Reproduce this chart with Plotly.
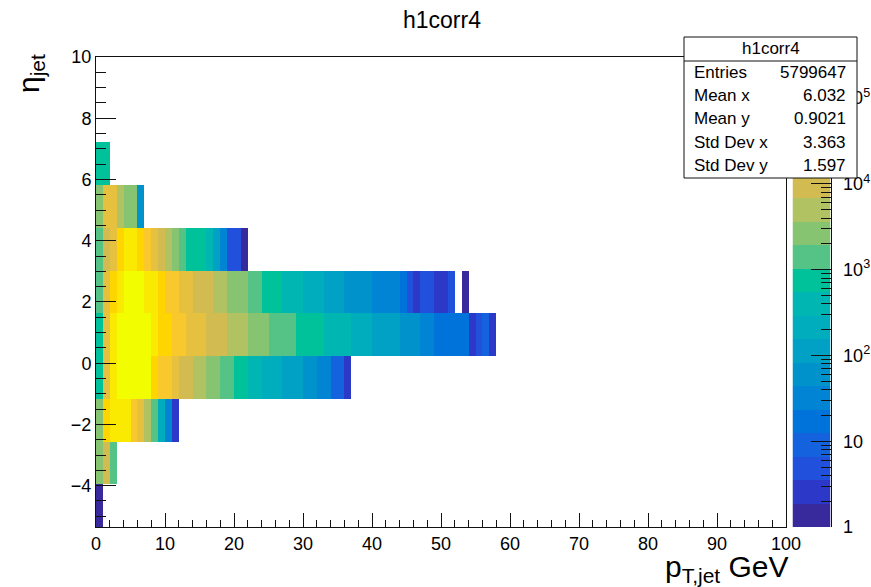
import numpy as np
import plotly.graph_objects as go

# ---- binning -------------------------------------------------------------
pt_edges = np.arange(0, 61, 1)             # 1 GeV wide pT bins (0-60 GeV filled)
eta_edges = np.linspace(-5.35, 10.0, 12)   # 11 eta bins

# ---- bin contents, one list per eta bin (lowest eta first), pT bins from 0 GeV
eta_bin0 = [1]
eta_bin1 = [2700, 9800, 1500]
eta_bin2 = [2500, 66000, 118000, 105000, 95000, 38000, 19000, 5600, 1500, 230, 33, 3]
eta_bin3 = [760, 18000, 125000, 205000, 250000, 240000, 215000, 180000, 70000, 42000,
            30000, 19000, 11500, 8500, 6100, 4400, 3200, 2300, 1700, 1200,
            880, 620, 470, 340, 260, 200, 170, 130, 100, 90,
            70, 50, 38, 27, 11, 8, 2]
eta_bin4 = [800, 20000, 140000, 230000, 302000, 280000, 250000, 200000, 150000, 80000,
            62000, 42000, 33000, 22000, 18000, 15000, 11500, 9500, 7800, 6300,
            5200, 4300, 3400, 2800, 2200, 1800, 1500, 1300, 1100, 950,
            800, 680, 580, 500, 430, 370, 310, 270, 220, 180,
            145, 120, 100, 88, 75, 60, 50, 38, 28, 21,
            19, 17, 15, 14, 3, 5, 8, 2]
eta_bin5 = [1500, 19000, 75000, 125000, 175000, 185000, 170000, 145000, 120000, 80000,
            42000, 33000, 22000, 16000, 12000, 9800, 8000, 6200, 4800, 3500,
            2800, 2200, 1800, 1300, 1000, 800, 650, 500, 420, 340,
            280, 220, 180, 150, 120, 95, 80, 68, 56, 46,
            40, 34, 29, 25, 16, 5, 3, 5, 4, 2,
            3, 4, 0, 1]
eta_bin6 = [1300, 10000, 20000, 60000, 105000, 95000, 70000, 40000, 22000, 12000,
            6000, 3300, 1600, 950, 750, 600, 420, 130, 35, 5,
            4, 1]
eta_bin7 = [2600, 17000, 21000, 5200, 3300, 2700, 60]
eta_bin8 = [700, 600]
eta_bin9 = []
eta_bin10 = []

rows = [eta_bin0, eta_bin1, eta_bin2, eta_bin3, eta_bin4, eta_bin5,
        eta_bin6, eta_bin7, eta_bin8, eta_bin9, eta_bin10]

n_pt = len(pt_edges) - 1
logz = []
for r in rows:
    line = [None] * n_pt
    for j, c in enumerate(r):
        if c > 0:
            line[j] = float(np.log10(c))
    logz.append(line)

# ---- colour contours (20 levels, log scale) ----------------------------
n_cont = 20
zmin = 0.0
zmax = float(np.log10(max(max(r) for r in rows if r)))
band_colors = [
    "#38299c", "#2c38c8", "#2150dd", "#1462de", "#0073db",
    "#0084d3", "#0093cb", "#00a1c4", "#00adbd", "#00b6b3",
    "#00c29a", "#55c386", "#87c472", "#b1c263", "#d2bc52",
    "#e6c13f", "#f9c82c", "#ffd500", "#fae900", "#f2fd00",
]
colorscale = []
for k, c in enumerate(band_colors):
    colorscale.append([k / n_cont, c])
    colorscale.append([(k + 1) / n_cont, c])

FONT = "Liberation Sans, Arial, Helvetica, sans-serif"
INK = "#111111"

fig = go.Figure()
fig.add_trace(go.Heatmap(
    x=pt_edges, y=eta_edges, z=logz,
    zmin=zmin, zmax=zmax, colorscale=colorscale,
    showscale=False, hoverongaps=False,
    xaxis="x", yaxis="y",
))

# palette strip drawn as its own heatmap on a log-valued axis
band_edges = np.linspace(zmin, zmax, n_cont + 1)
band_mid = [[(band_edges[k] + band_edges[k + 1]) / 2] for k in range(n_cont)]
fig.add_trace(go.Heatmap(
    x=[0, 1], y=band_edges, z=band_mid,
    zmin=zmin, zmax=zmax, colorscale=colorscale,
    showscale=False, hoverinfo="skip",
    xaxis="x2", yaxis="y2",
))

decades = [d for d in range(0, 6) if d <= zmax]
dec_text = ["1", "10"] + [f"10<sup>{d}</sup>" for d in decades[2:]]
minor_vals = [np.log10(m) + d for d in range(0, 6) for m in range(2, 10)
              if np.log10(m) + d <= zmax]

# plot area spans x 96..831 px, y 57..527 px
L, R, T, B = 96, 40, 57, 60
W, H = 871, 587
PW, PH = W - L - R, H - T - B


def px(x):
    return (x - L) / PW


def py(y):
    return (H - B - y) / PH


axis_common = dict(
    showgrid=False, zeroline=False, showline=True, linecolor=INK, linewidth=1,
    tickcolor=INK, tickwidth=1, ticks="inside", automargin=False,
    tickfont=dict(family=FONT, size=18, color="#000"),
)

fig.update_layout(
    width=W, height=H,
    margin=dict(l=L, r=R, t=T, b=B, autoexpand=False),
    paper_bgcolor="white", plot_bgcolor="white",
    title=dict(text="h1corr4", x=442 / W, xanchor="center",
               y=1 - 20 / H, yanchor="middle",
               font=dict(family=FONT, size=23, color="#000")),
    xaxis=dict(domain=[0, px(786)], range=[0, 100], anchor="y",
               tickmode="linear", tick0=0, dtick=10, ticklen=14, mirror=True,
               minor=dict(dtick=2, ticks="inside", ticklen=7,
                          tickcolor=INK, tickwidth=1),
               **axis_common),
    yaxis=dict(domain=[0, 1], range=[eta_edges[0], eta_edges[-1]], anchor="x",
               tickmode="linear", tick0=0, dtick=2, ticklen=20, mirror=True,
               minor=dict(dtick=0.5, tick0=0, ticks="inside", ticklen=10,
                          tickcolor=INK, tickwidth=1),
               **axis_common),
    xaxis2=dict(domain=[px(792.5), px(830.5)], range=[0, 1], anchor="y2",
                visible=False, fixedrange=True),
    yaxis2=dict(domain=[0, 1], range=[zmin, zmax], anchor="x2", side="right",
                tickmode="array", tickvals=decades, ticktext=dec_text,
                ticklen=20, ticklabelstandoff=8,
                minor=dict(tickmode="array", tickvals=minor_vals, ticks="inside",
                           ticklen=10, tickcolor=INK, tickwidth=1),
                **axis_common),
    showlegend=False,
)

# statistics box
fig.add_shape(type="rect", xref="paper", yref="paper",
              x0=px(684), x1=px(857), y0=py(178), y1=py(37),
              line=dict(color=INK, width=1), fillcolor="white", layer="above")
fig.add_shape(type="line", xref="paper", yref="paper",
              x0=px(684), x1=px(857), y0=py(61), y1=py(61),
              line=dict(color=INK, width=1), layer="above")

stat_font = dict(family=FONT, size=17, color="#000")
fig.add_annotation(xref="paper", yref="paper", x=px(770.5), y=py(49),
                   text="h1corr4", showarrow=False, xanchor="center",
                   yanchor="middle", font=stat_font)
stat_names = ["Entries", "Mean x", "Mean y", "Std Dev x", "Std Dev y"]
stat_values = ["5799647", "6.032", "0.9021", "3.363", "1.597"]
stat_rows_y = [72, 95.5, 118.5, 142, 165]
for name, val, yy in zip(stat_names, stat_values, stat_rows_y):
    fig.add_annotation(xref="paper", yref="paper", x=px(692), y=py(yy),
                       text=name, showarrow=False, xanchor="left",
                       yanchor="middle", font=stat_font)
    fig.add_annotation(xref="paper", yref="paper", x=px(848), y=py(yy),
                       text=val, showarrow=False, xanchor="right",
                       yanchor="middle", font=stat_font)

# axis titles
fig.add_annotation(xref="paper", yref="paper", x=px(30), y=py(74),
                   text="η<sub>jet</sub>", showarrow=False, textangle=-90,
                   xanchor="center", yanchor="middle",
                   font=dict(family=FONT, size=30, color="#000"))
fig.add_annotation(xref="paper", yref="paper", x=px(791), y=py(568),
                   text="p<sub>T,jet</sub> GeV", showarrow=False,
                   xanchor="right", yanchor="middle",
                   font=dict(family=FONT, size=30, color="#000"))

fig.write_html("out.html")
